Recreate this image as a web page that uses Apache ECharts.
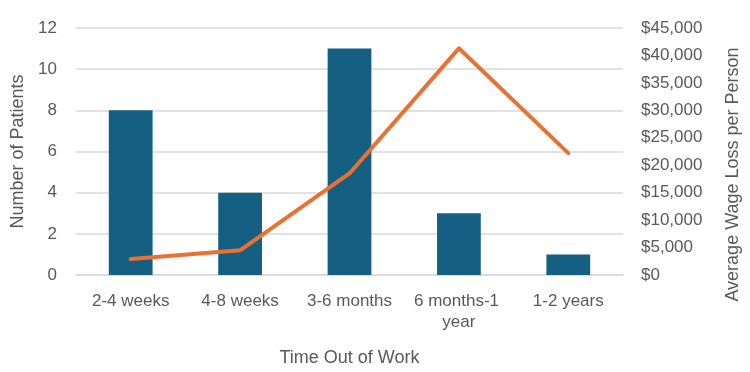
<!DOCTYPE html>
<html>
<head>
<meta charset="utf-8">
<script src="https://cdn.jsdelivr.net/npm/echarts@6/dist/echarts.min.js"></script>
<style>
  html, body { margin: 0; padding: 0; background: #fff; }
  #chart { width: 750px; height: 372px; }
</style>
</head>
<body>
<div id="chart"></div>
<script>
// data
const categories = ["2-4 weeks", "4-8 weeks", "3-6 months", "6 months-1 year", "1-2 years"];
const patients = [8, 4, 11, 3, 1];
const wageLoss = [2900, 4500, 18500, 41300, 22200];

const textColor = "#595959";
const fontFamily = "Liberation Sans, Arial, sans-serif";

const chart = echarts.init(document.getElementById("chart"));

chart.setOption({
  animation: false,
  textStyle: { fontFamily: fontFamily },
  grid: { left: 76, right: 126, top: 28, bottom: 97 },
  xAxis: {
    type: "category",
    data: categories,
    name: "Time Out of Work",
    nameLocation: "middle",
    nameGap: 74,
    nameTextStyle: { color: textColor, fontSize: 18, fontFamily: fontFamily },
    axisLine: { lineStyle: { color: "#d9d9d9", width: 1.5 } },
    axisTick: { show: false },
    axisLabel: {
      color: textColor,
      fontSize: 17,
      fontFamily: fontFamily,
      margin: 16,
      lineHeight: 21,
      width: 106,
      overflow: "break",
      interval: 0
    }
  },
  yAxis: [
    {
      type: "value",
      min: 0,
      max: 12,
      interval: 2,
      name: "Number of Patients",
      nameLocation: "middle",
      nameRotate: 90,
      nameGap: 48,
      nameTextStyle: { color: textColor, fontSize: 18, fontFamily: fontFamily },
      axisLine: { show: false },
      axisTick: { show: false },
      axisLabel: { color: textColor, fontSize: 17, fontFamily: fontFamily, margin: 19 },
      splitLine: { lineStyle: { color: "#d9d9d9", width: 1.5 } }
    },
    {
      type: "value",
      min: 0,
      max: 45000,
      interval: 5000,
      name: "Average Wage Loss per Person",
      nameLocation: "middle",
      nameRotate: 90,
      nameGap: 101,
      nameTextStyle: {
        color: textColor,
        fontSize: 18,
        fontFamily: fontFamily,
        padding: [0, 46, 0, 0]
      },
      axisLine: { show: false },
      axisTick: { show: false },
      axisLabel: {
        color: textColor,
        fontSize: 17,
        fontFamily: fontFamily,
        margin: 18,
        formatter: function (v) {
          return "$" + v.toLocaleString("en-US");
        }
      },
      splitLine: { show: false }
    }
  ],
  series: [
    {
      name: "Number of Patients",
      type: "bar",
      yAxisIndex: 0,
      barWidth: "40%",
      itemStyle: { color: "#156082" },
      data: patients
    },
    {
      name: "Average Wage Loss per Person",
      type: "line",
      yAxisIndex: 1,
      symbol: "none",
      lineStyle: { color: "#E97132", width: 4, cap: "round", join: "round" },
      data: wageLoss
    }
  ]
});
</script>
</body>
</html>
